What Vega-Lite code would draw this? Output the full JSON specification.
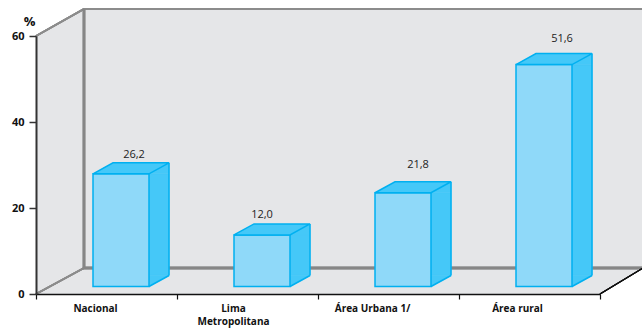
{
"$schema":"https://vega.github.io/schema/vega-lite/v6.json",
"width":564,"height":258,
"autosize":{"type":"none"},
"padding":{"left":36,"top":36,"right":42,"bottom":34},
"background":"white",
"config":{"view":{"stroke":null},"font":"Open Sans"},
"data":{"values":[
{"category":"Nacional","value":26.2,"label":"26,2"},
{"category":"Lima Metropolitana","value":12.0,"label":"12,0"},
{"category":"Área Urbana 1/","value":21.8,"label":"21,8"},
{"category":"Área rural","value":51.6,"label":"51,6"}
]},
"encoding":{
"x":{"field":"category","type":"nominal","sort":null,
 "scale":{"domain":["Nacional","Lima Metropolitana","Área Urbana 1/","Área rural"],"paddingInner":0,"paddingOuter":0},
 "axis":{"title":null,"zindex":1,"labelAngle":0,"domainColor":"#111111","domainWidth":1.5,"tickColor":"#111111","tickWidth":1.2,"tickSize":5,"tickBand":"extent","labelPadding":4,"labelOffset":{"condition":[{"test":"datum.value=='Nacional'","value":-11.5},{"test":"datum.value=='Lima Metropolitana'","value":-14.5},{"test":"datum.value=='Área rural'","value":-12.5}],"value":-16.5},"labelFont":"Open Sans","labelFontWeight":"bold","labelFontSize":10,"labelColor":"#111111","labelLineHeight":13,"labelBound":false,"labelFlush":false,"labelOverlap":false,"labelLimit":200,"labelExpr":"datum.value=='Lima Metropolitana'?['Lima','Metropolitana']:datum.label"}},
"y":{"field":"value","type":"quantitative",
 "scale":{"domain":[0,60],"nice":false},
 "axis":{"title":"%","titleAngle":0,"titleX":-7,"titleY":-8,"titleAlign":"center","titleFont":"Open Sans","titleFontWeight":"bold","titleFontSize":13,"titleColor":"#111111","zindex":1,"values":[0,20,40,60],"grid":false,"domainColor":"#333333","domainWidth":2,"tickColor":"#333333","tickWidth":1.5,"tickSize":7,"labelPadding":5,"labelFont":"Open Sans","labelFontWeight":"bold","labelFontSize":11,"labelColor":"#111111"}}
},
"layer":[
{"mark":{"type":"point","filled":true,"size":4,"fill":"#e5e6e8","stroke":null,"opacity":1,"clip":false,"shape":"M-70.5,-258 L-22.5,-285 L553.5,-285 L553.5,-26 L535.5,-26 L493.5,0 L-70.5,0 Z"},
 "encoding":{"x":{"datum":"Nacional"},"y":{"datum":0}}},
{"mark":{"type":"point","filled":false,"size":4,"stroke":"#8c8c8c","strokeWidth":1.8,"opacity":1,"clip":false,"shape":"M-70.5,-258 L-22.5,-285 L553,-285 M-70.5,0 L-22.5,-26"},
 "encoding":{"x":{"datum":"Nacional"},"y":{"datum":0}}},
{"mark":{"type":"point","filled":false,"size":4,"stroke":"#868686","strokeWidth":2.4,"opacity":1,"clip":false,"shape":"M-22.5,-285 L-22.5,-26 L553,-26"},
 "encoding":{"x":{"datum":"Nacional"},"y":{"datum":0}}},
{"mark":{"type":"point","filled":false,"size":4,"stroke":"#111111","strokeWidth":1.1,"opacity":1,"clip":false,"shape":"M493.5,0 L540,-28"},
 "encoding":{"x":{"datum":"Nacional"},"y":{"datum":0}}},
{"mark":{"type":"bar","width":20,"xOffset":52.5,"yOffset":-7.5,"y2Offset":-7.5,"fill":"#45c8f8","stroke":"#45c8f8","strokeWidth":0.6},
 "encoding":{"y2":{"datum":2.56}}},
{"mark":{"type":"point","filled":true,"size":4,"fill":"#45c8f8","stroke":"#45c8f8","strokeWidth":0.6,"opacity":1,"shape":"M42.5,-7.5 L62.5,-18.5 L62.5,-7.5 Z"}},
{"mark":{"type":"point","filled":true,"size":4,"fill":"#45c8f8","stroke":"#45c8f8","strokeWidth":0.6,"opacity":1,"shape":"M42.5,-7.5 L62.5,-18.5 L42.5,-18.5 Z"},
 "encoding":{"y":{"datum":0}}},
{"mark":{"type":"rule","xOffset":62.5,"yOffset":-18.5,"y2Offset":-18.5,"stroke":"#00b0f0","strokeWidth":1.5},
 "encoding":{"y2":{"datum":0}}},
{"mark":{"type":"point","filled":false,"size":4,"stroke":"#00b0f0","strokeWidth":1.5,"opacity":1,"shape":"M42.5,-7.5 L62.5,-18.5"},
 "encoding":{"y":{"datum":0}}},
{"mark":{"type":"bar","width":56,"xOffset":14.5,"yOffset":-7.5,"y2Offset":-7.5,"fill":"#8fd9f9","stroke":"#00b0f0","strokeWidth":1.5},
 "encoding":{"y2":{"datum":0}}},
{"mark":{"type":"point","filled":true,"size":4,"fill":"#45c8f8","stroke":"#00b0f0","strokeWidth":1.5,"opacity":1,"shape":"M-13.5,-7.5 L42.5,-7.5 L62.5,-18.5 L6.5,-18.5 Z"}},
{"mark":{"type":"text","font":"Open Sans","fontSize":11,"color":"#222222","baseline":"middle","align":"center",
  "xOffset":{"expr":"datum.category=='Nacional'?27.5:datum.category=='Lima Metropolitana'?14.5:datum.category=='Área rural'?32.5:29.5"},
  "yOffset":{"expr":"datum.category=='Nacional'?-26.3:datum.category=='Lima Metropolitana'?-27.4:datum.category=='Área rural'?-33.1:-35.3"}},
 "encoding":{"text":{"field":"label"}}}
]
}
